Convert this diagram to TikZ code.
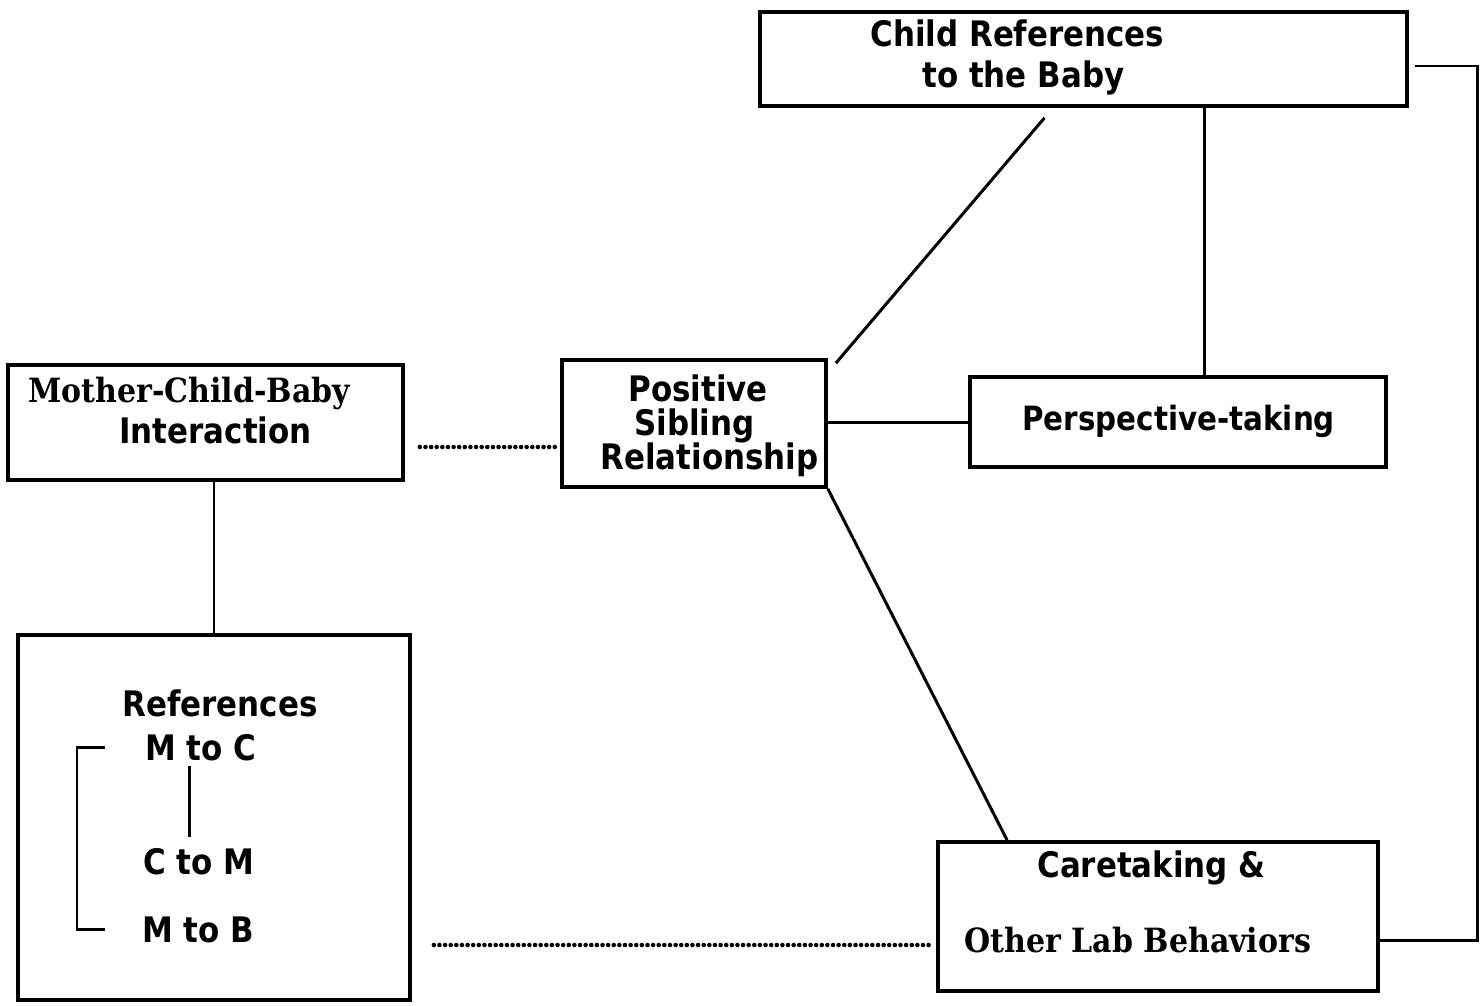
\documentclass[tikz,border=0pt]{standalone}
\usepackage{fontspec}
\newfontfamily\lblfont[FakeStretch=0.88]{DejaVu Sans}
\newfontfamily\txtfont[FakeStretch=0.9]{DejaVu Serif}
\usetikzlibrary{fit,calc}
\tikzset{
  box/.style={draw=black, line width=2.1pt, inner sep=0pt},
  link/.style={draw=black, line width=1.7pt},
  dots/.style={draw=black, line width=2.6pt, line cap=round, dash pattern=on 0pt off 3.2pt},
  heavy/.style={font=\lblfont\bfseries\fontsize{20}{24}\selectfont, inner sep=0pt, anchor=base west},
  plain/.style={font=\txtfont\bfseries\fontsize{19}{23}\selectfont, inner sep=0pt, anchor=base west},
}
\begin{document}
\begin{tikzpicture}[x=0.02cm,y=-0.02cm]
  \useasboundingbox (0,0) rectangle (1484,1005);
  % boxes
  \node[box, fit={(8,365) (403,480)}] (mcb) {};
  \node[box, fit={(562,360) (826,487)}] (psr) {};
  \node[box, fit={(760,12) (1407,106)}] (crb) {};
  \node[box, fit={(970,377) (1386,467)}] (persp) {};
  \node[box, fit={(938,842) (1378,991)}] (care) {};
  \node[box, fit={(18,635) (410,1000)}] (refs) {};

  \node[plain] (mcbtop) at (28,402) {Mother-Child-Baby};
  \node[heavy] (mcbbot) at (119,443) {Interaction};
  \node[heavy] (psrA) at (628,401) {Positive};
  \node[heavy] (psrB) at (634,435) {Sibling};
  \node[heavy] (psrC) at (600,469) {Relationship};
  \node[heavy] (crbtop) at (870,46) {Child References};
  \node[heavy] (crbbot) at (922,87) {to the Baby};
  \node[heavy, font=\lblfont\bfseries\fontsize{19}{23}\selectfont] (persptxt) at (1022,430) {Perspective-taking};
  \node[heavy] (caretop) at (1037,877) {Caretaking \&};
  \node[plain] (carebot) at (964,952) {Other Lab Behaviors};
  \node[heavy] (reftitle) at (122,716) {References};
  \node[heavy] (mc) at (145,760) {M to C};
  \node[heavy] (cm) at (143,874) {C to M};
  \node[heavy] (mb) at (142,942) {M to B};

  % connectors
  \draw[link] (refs.north) -- (refs.north |- mcb.south);
  \draw[dots] ($(mcb.east |- 0,447)+(15,0)$) -- (psr.west |- 0,447);
  \draw[dots] ($(refs.east |- 0,945)+(22,0)$) -- ($(care.west |- 0,945)+(-6,0)$);
  \draw[link] (psr.east |- persp.west) -- (persp.west);
  \draw[link] (persp.north -| 1204,0) -- (crb.south -| 1204,0);
  \draw[link] ($(psr.north east)+(8,5)$) -- ($(crb.south west)!0.44!(crb.south east)+(0,10)$);
  \draw[link] (psr.south east) -- ($(care.north west)!0.16!(care.north east)$);
  \draw[link] ($(crb.east)+(6,7)$) -- (1477,66) -- (1477,940) -- (care.east |- 0,940);
  \draw[link] ($(mc.west)+(-40,0)$) -| ($(mb.west)+(-65,0)$) -- ($(mb.west)+(-37,0)$);
  \draw[link] ($(mc.south)+(-11,5)$) -- ($(mc.south |- cm.north)+(-11,-11)$);
\end{tikzpicture}
\end{document}
